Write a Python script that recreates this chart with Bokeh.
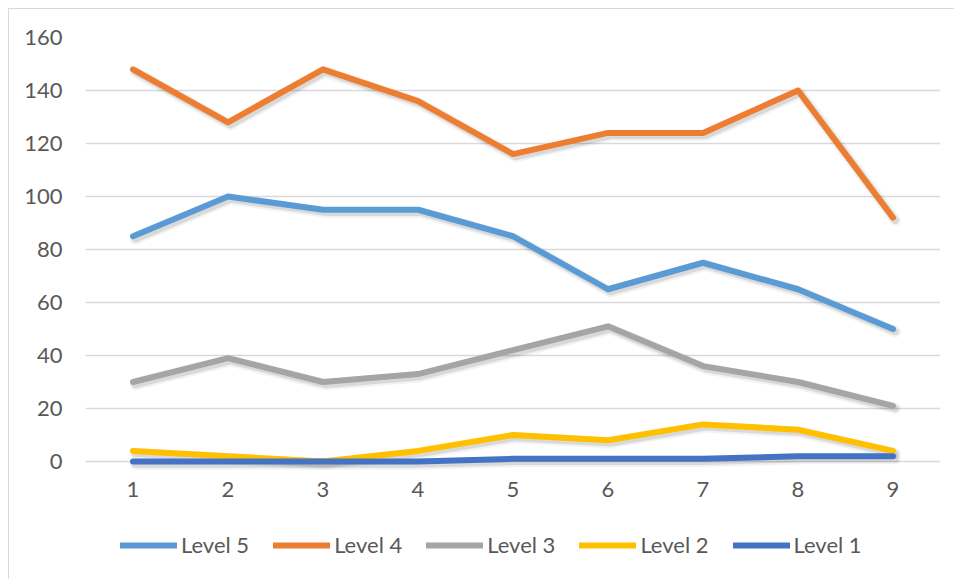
from bokeh.plotting import figure
from bokeh.models import Legend, LegendItem, FixedTicker, Range1d
from bokeh.embed import file_html
from bokeh.resources import INLINE

# Data
periods = [1, 2, 3, 4, 5, 6, 7, 8, 9]
level5 = [85, 100, 95, 95, 85, 65, 75, 65, 50]
level4 = [148, 128, 148, 136, 116, 124, 124, 140, 92]
level3 = [30, 39, 30, 33, 42, 51, 36, 30, 21]
level2 = [4, 2, 0, 4, 10, 8, 14, 12, 4]
level1 = [0, 0, 0, 0, 1, 1, 1, 2, 2]
y_ticks = [0, 20, 40, 60, 80, 100, 120, 140, 160]

series = [
    ("Level 5", level5, "#5B9BD5"),
    ("Level 4", level4, "#ED7D31"),
    ("Level 3", level3, "#A5A5A5"),
    ("Level 2", level2, "#FFC000"),
    ("Level 1", level1, "#4472C4"),
]

FONT = "Lato"
TEXT = "#595959"
GRID = "#D9D9D9"

# Layout: the plotting frame runs to the bottom edge so the legend can sit
# inside it, below the category axis that is pinned at y = 0.
W, H = 946, 571
TOP, LEFT, RIGHT = 28, 76, 15
VALUE_PX = 424  # pixel height of the 0..160 value span
y_max = y_ticks[-1]
frame_h = H - TOP
y_min = y_max - frame_h * y_max / VALUE_PX

p = figure(
    width=W, height=H, margin=(8, 0, 0, 8),
    x_range=Range1d(0.5, 9.5), y_range=Range1d(y_min, y_max),
    output_backend="svg", toolbar_location=None,
    min_border_left=LEFT, min_border_right=RIGHT,
    min_border_top=TOP, min_border_bottom=0,
)
# Chart area border (left and top edges are the visible ones)
p.styles = {"border-left": "1px solid #D9D9D9", "border-top": "1px solid #D9D9D9"}
p.outline_line_color = None
p.background_fill_color = "white"
p.border_fill_color = "white"

# Axes
p.xaxis.ticker = FixedTicker(ticks=periods)
p.xaxis.fixed_location = 0
p.yaxis.ticker = FixedTicker(ticks=y_ticks)
for ax in (p.xaxis[0], p.yaxis[0]):
    ax.axis_line_color = None
    ax.major_tick_line_color = None
    ax.minor_tick_line_color = None
    ax.major_tick_in = 0
    ax.major_tick_out = 0
    ax.major_label_text_font = FONT
    ax.major_label_text_font_size = "22px"
    ax.major_label_text_color = TEXT
p.xaxis.major_label_standoff = 20
p.yaxis.major_label_standoff = 23

p.xgrid.grid_line_color = None
p.ygrid.grid_line_color = GRID
p.ygrid.grid_line_width = 1.5

# Soft drop shadow under each line
dx = 0.025
dy = -1.0
for _, vals, _ in series:
    sx = [x + dx for x in periods]
    sy = [v + dy for v in vals]
    p.line(sx, sy, line_color="black", line_alpha=0.05, line_width=11,
           line_cap="round", line_join="round")
    p.line(sx, sy, line_color="black", line_alpha=0.10, line_width=7,
           line_cap="round", line_join="round")

items = []
for name, vals, color in series:
    r = p.line(periods, vals, line_color=color, line_width=6,
               line_cap="round", line_join="round")
    items.append(LegendItem(label=name, renderers=[r]))

legend = Legend(
    items=items, orientation="horizontal", location=(35, 22),
    glyph_width=57, glyph_height=24, label_standoff=4, spacing=24,
    padding=0, margin=0, border_line_color=None, background_fill_alpha=0,
    label_text_font=FONT, label_text_font_size="22px", label_text_color=TEXT,
    label_height=24,
)
p.add_layout(legend, "center")

open("out.html", "w").write(file_html(p, INLINE))
